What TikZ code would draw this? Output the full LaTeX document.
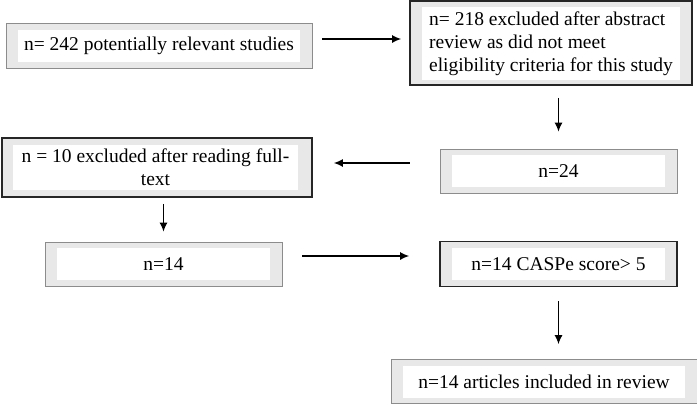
\documentclass[tikz,border=0pt]{standalone}
\usepackage{fontspec}
\setmainfont{Liberation Serif}
\usetikzlibrary{arrows.meta}

\tikzset{
  frame/.style={draw=black!45, line width=0.8pt, fill=gray!18},
  heavy/.style={frame, draw=black!85, line width=1.8pt},
  pane/.style={fill=white, inner sep=1pt},
  arr/.style={-{Latex[length=9pt,width=8pt]}, line width=1.2pt},
}

\begin{document}
\begin{tikzpicture}[x=1pt, y=-1pt, font=\fontsize{19.5}{23}\selectfont]
  \useasboundingbox (0,0) rectangle (697,405);

  % outer frames
  \node (all) [frame, minimum width=306, minimum height=45] at (159,45.5) {};
  \node (scr) [heavy, minimum width=282, minimum height=84] at (551,43) {};
  \node (n24) [frame, minimum width=237, minimum height=44] at (558.5,171) {};
  \node (ful) [heavy, minimum width=310, minimum height=59] at (157,167.5) {};
  \node (n14) [frame, minimum width=237, minimum height=44] at (163.5,264) {};
  \node (cas) [heavy, minimum width=237, minimum height=45] at (558.5,264) {};
  \node (inc) [frame, minimum width=306, minimum height=44] at (544,381.5) {};

  % white panes with the texts
  \node (all-t) [pane, minimum width=282, minimum height=32] at (all) {n= 242 potentially relevant studies};
  \node (scr-t) [pane, minimum width=258, minimum height=73, align=left] at (551,43.5)
    {n= 218 excluded after abstract\\review as did not meet\\eligibility criteria for this study};
  \node (n24-t) [pane, minimum width=213, minimum height=32] at (n24) {n=24};
  \node (ful-t) [pane, minimum width=285, minimum height=45, align=center] at (155.5,167.5)
    {n = 10 excluded after reading full-\\text};
  \node (n14-t) [pane, minimum width=213, minimum height=32] at (n14) {n=14};
  \node (cas-t) [pane, minimum width=213, minimum height=32] at (n14 -| cas) {n=14 CASPe score> 5};
  \node (inc-t) [pane, minimum width=282, minimum height=32] at (inc) {n=14 articles included in review};

  % connectors
  \draw [arr, shorten <=10pt, shorten >=8pt] ([yshift=6.5pt]all.east) -- ([yshift=6.5pt]all.east -| scr.west);
  \draw [arr, shorten <=12pt, shorten >=17pt] (n24.north |- scr.south) -- (n24.north);
  \draw [arr, shorten <=30pt, shorten >=21pt] ([yshift=8pt]n24.west) -- ([yshift=8pt]n24.west -| ful.east);
  \draw [arr, shorten <=6pt, shorten >=10pt] (n14.north |- ful.south) -- (n14.north);
  \draw [arr, shorten <=20pt, shorten >=30pt] ([yshift=8pt]n14.east) -- ([yshift=8pt]n14.east -| cas.west);
  \draw [arr, shorten <=14pt, shorten >=15pt] (cas.south) -- (cas.south |- inc.north);

\end{tikzpicture}
\end{document}
